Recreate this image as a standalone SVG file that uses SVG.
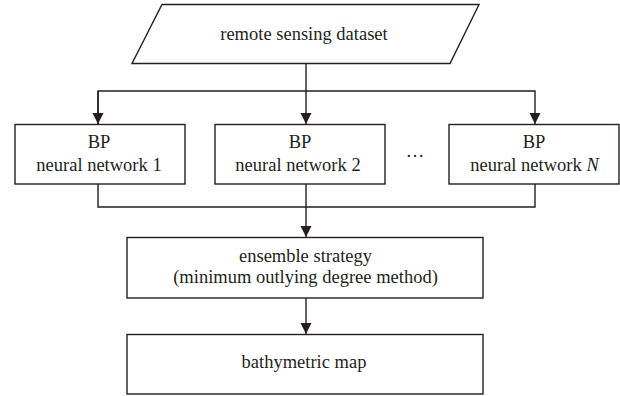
<svg xmlns="http://www.w3.org/2000/svg" width="620" height="396" viewBox="0 0 620 396">
<style>
.shape{fill:#fff;stroke:#231f20;stroke-width:1.4}
.conn{fill:none;stroke:#231f20;stroke-width:1.4}
text{font-family:"Liberation Serif","Times New Roman",serif;font-size:18.5px;fill:#231f20;text-anchor:middle}
</style>
<defs>
<marker id="arr" markerUnits="userSpaceOnUse" markerWidth="12" markerHeight="13" refX="11" refY="6" orient="auto">
<path d="M0,0.5 L11,6 L0,11.5 Z" fill="#231f20"/>
</marker>
</defs>
<rect width="620" height="396" fill="#fff"/>
<g id="connectors">
<line class="conn" x1="306" y1="63.5" x2="306" y2="124" marker-end="url(#arr)"/>
<polyline class="conn" points="98,124 98,91 535,91 535,124" marker-end="url(#arr)"/>
<line class="conn" x1="98" y1="91" x2="98" y2="124" marker-end="url(#arr)"/>
<polyline class="conn" points="98,184 98,207 535,207 535,184"/>
<line class="conn" x1="306" y1="184" x2="306" y2="237" marker-end="url(#arr)"/>
<line class="conn" x1="306" y1="298" x2="306" y2="334" marker-end="url(#arr)"/>
</g>
<g id="dataset">
<polygon class="shape" points="162,4.5 479,4.5 450,63.5 132,63.5"/>
<text x="304" y="40">remote sensing dataset</text>
</g>
<g id="bp1">
<rect class="shape" x="15" y="124.5" width="170" height="59.5"/>
<text x="99" y="148">BP</text>
<text x="99" y="171">neural network 1</text>
</g>
<g id="bp2">
<rect class="shape" x="215" y="124.5" width="170" height="59.5"/>
<text x="300" y="148">BP</text>
<text x="298" y="171">neural network 2</text>
</g>
<text x="415" y="157">…</text>
<g id="bpN">
<rect class="shape" x="449" y="124.5" width="170" height="59.5"/>
<text x="534" y="148">BP</text>
<text x="534.5" y="171">neural network <tspan font-style="italic">N</tspan></text>
</g>
<g id="ensemble">
<rect class="shape" x="127" y="237.5" width="356" height="60.5"/>
<text x="305.5" y="262">ensemble strategy</text>
<text x="305.5" y="283">(minimum outlying degree method)</text>
</g>
<g id="bathymetric">
<rect class="shape" x="127" y="334.5" width="356" height="59.5"/>
<text x="304" y="368">bathymetric map</text>
</g>
</svg>
